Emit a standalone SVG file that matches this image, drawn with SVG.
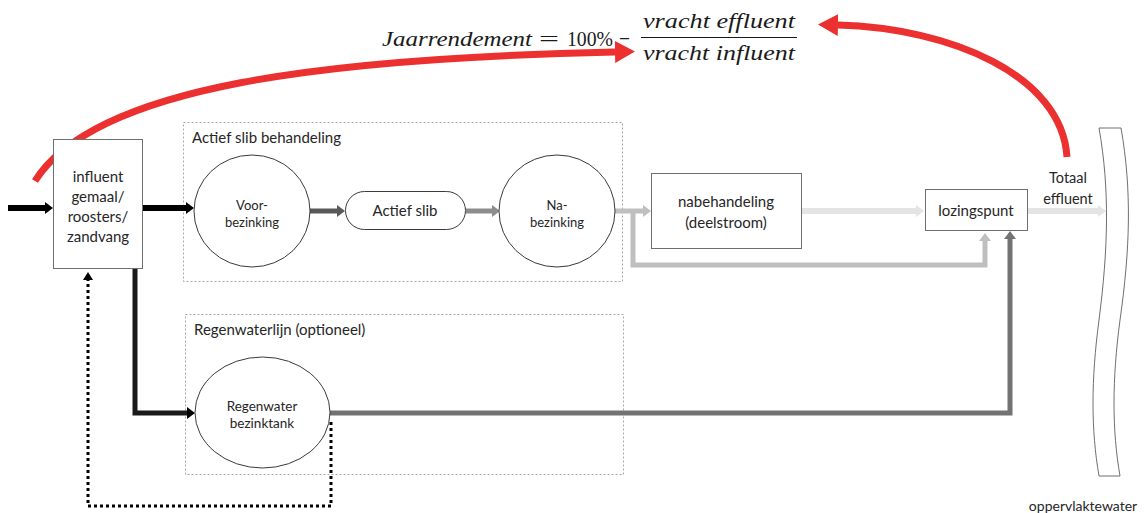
<svg xmlns="http://www.w3.org/2000/svg" width="1147" height="513" viewBox="0 0 1147 513">
  <style>
    .lbl { font-family: Lato, "Open Sans", "Liberation Sans", sans-serif; fill: #262626; text-anchor: middle; }
    .grp { font-family: Lato, "Open Sans", "Liberation Sans", sans-serif; fill: #262626; font-size: 15px; }
    .box { fill: #ffffff; stroke: #6f6f6f; stroke-width: 1; }
    .tank { fill: #ffffff; stroke: #3a3a3a; stroke-width: 1; }
    .zone { fill: none; stroke: #a6a6a6; stroke-width: 1; stroke-dasharray: 2 2; }
    .math { font-family: "Liberation Serif", "DejaVu Serif", serif; fill: #1a1a1a; font-size: 22px; }
    .flow { fill: none; stroke-linejoin: miter; }
  </style>
  <defs>
    <marker id="hBlack" markerUnits="userSpaceOnUse" viewBox="0 0 8 12" refX="0" refY="6" markerWidth="8" markerHeight="12" orient="auto">
      <path d="M0 0 L8 6 L0 12 Z" fill="#000000"/>
    </marker>
    <marker id="hDark" markerUnits="userSpaceOnUse" viewBox="0 0 8 12" refX="0" refY="6" markerWidth="8" markerHeight="12" orient="auto">
      <path d="M0 0 L8 6 L0 12 Z" fill="#595959"/>
    </marker>
    <marker id="hMid" markerUnits="userSpaceOnUse" viewBox="0 0 8 12" refX="0" refY="6" markerWidth="8" markerHeight="12" orient="auto">
      <path d="M0 0 L8 6 L0 12 Z" fill="#8c8c8c"/>
    </marker>
    <marker id="hLight" markerUnits="userSpaceOnUse" viewBox="0 0 8 12" refX="0" refY="6" markerWidth="8" markerHeight="12" orient="auto">
      <path d="M0 0 L8 6 L0 12 Z" fill="#bfbfbf"/>
    </marker>
    <marker id="hPale" markerUnits="userSpaceOnUse" viewBox="0 0 8 12" refX="0" refY="6" markerWidth="8" markerHeight="12" orient="auto">
      <path d="M0 0 L8 6 L0 12 Z" fill="#e4e4e4"/>
    </marker>
    <marker id="hSlate" markerUnits="userSpaceOnUse" viewBox="0 0 8 12" refX="0" refY="6" markerWidth="8" markerHeight="12" orient="auto">
      <path d="M0 0 L8 6 L0 12 Z" fill="#727272"/>
    </marker>
    <marker id="hDot" markerUnits="userSpaceOnUse" viewBox="0 0 8 10" refX="0" refY="5" markerWidth="8" markerHeight="10" orient="auto">
      <path d="M0 0 L8 5 L0 10 Z" fill="#000000"/>
    </marker>
    <marker id="hRed" markerUnits="userSpaceOnUse" viewBox="0 0 20 22" refX="0" refY="11" markerWidth="20" markerHeight="22" orient="auto">
      <path d="M0 0 L20 11 L0 22 Z" fill="#ec2f2f"/>
    </marker>
  </defs>

  <!-- grouping frames -->
  <g id="zone-actief-slib">
    <rect class="zone" x="183.5" y="122.5" width="439" height="159"/>
    <text class="grp" x="192" y="143">Actief slib behandeling</text>
  </g>
  <g id="zone-regenwater">
    <rect class="zone" x="185.5" y="314.5" width="438" height="160"/>
    <text class="grp" x="194" y="335">Regenwaterlijn (optioneel)</text>
  </g>

  <!-- connectors -->
  <g id="connectors">
    <!-- main line -->
    <line class="flow" x1="8" y1="208" x2="45" y2="208" stroke="#000000" stroke-width="6" marker-end="url(#hBlack)"/>
    <line class="flow" x1="143" y1="208" x2="186" y2="208" stroke="#000000" stroke-width="6" marker-end="url(#hBlack)"/>
    <line class="flow" x1="310" y1="211" x2="337" y2="211" stroke="#595959" stroke-width="5" marker-end="url(#hDark)"/>
    <line class="flow" x1="466" y1="211" x2="492" y2="211" stroke="#8c8c8c" stroke-width="5" marker-end="url(#hMid)"/>
    <line class="flow" x1="615" y1="211" x2="643" y2="211" stroke="#bfbfbf" stroke-width="5" marker-end="url(#hLight)"/>
    <!-- bypass around nabehandeling -->
    <path class="flow" d="M633 211 V265 H985 V241" stroke="#bfbfbf" stroke-width="5" marker-end="url(#hLight)"/>
    <line class="flow" x1="802" y1="211" x2="916" y2="211" stroke="#e4e4e4" stroke-width="6" marker-end="url(#hPale)"/>
    <line class="flow" x1="1028" y1="211" x2="1098" y2="211" stroke="#e4e4e4" stroke-width="6" marker-end="url(#hPale)"/>
    <!-- storm water line -->
    <path class="flow" d="M135 269 V413 H187" stroke="#1a1a1a" stroke-width="5" marker-end="url(#hBlack)"/>
    <path class="flow" d="M330 413 H1010 V239" stroke="#727272" stroke-width="5" marker-end="url(#hSlate)"/>
    <!-- return flow -->
    <path class="flow" d="M331 422 V506 H88 V280" stroke="#000000" stroke-width="3" stroke-dasharray="3 3" marker-end="url(#hDot)"/>
    <!-- efficiency arrows -->
    <path class="flow" d="M35 181 C 95 85, 330 58, 615 52" stroke="#ec2f2f" stroke-width="7" marker-end="url(#hRed)"/>
    <path class="flow" d="M1067 157 C 1062 75, 950 28, 838 25" stroke="#ec2f2f" stroke-width="7" marker-end="url(#hRed)"/>
  </g>

  <!-- nodes -->
  <g id="influent">
    <rect class="box" x="53.5" y="139.5" width="89" height="129"/>
    <text class="lbl" font-size="15"><tspan x="98" y="182">influent</tspan><tspan x="98" y="202">gemaal/</tspan><tspan x="98" y="222">roosters/</tspan><tspan x="98" y="242">zandvang</tspan></text>
  </g>
  <g id="voorbezinking">
    <ellipse class="tank" cx="252" cy="211" rx="58" ry="56"/>
    <text class="lbl" font-size="13"><tspan x="252" y="210">Voor-</tspan><tspan x="252" y="227">bezinking</tspan></text>
  </g>
  <g id="actief-slib">
    <rect class="tank" x="345.5" y="191.5" width="120" height="38" rx="19"/>
    <text class="lbl" font-size="15" x="405" y="216">Actief slib</text>
  </g>
  <g id="nabezinking">
    <ellipse class="tank" cx="557" cy="211" rx="58" ry="56"/>
    <text class="lbl" font-size="13"><tspan x="557" y="210">Na-</tspan><tspan x="557" y="227">bezinking</tspan></text>
  </g>
  <g id="nabehandeling">
    <rect class="box" x="651.5" y="173.5" width="150" height="75"/>
    <text class="lbl" font-size="15"><tspan x="726" y="207">nabehandeling</tspan><tspan x="726" y="228">(deelstroom)</tspan></text>
  </g>
  <g id="lozingspunt">
    <rect class="box" x="925.5" y="189.5" width="102" height="41"/>
    <text class="lbl" font-size="15" x="976" y="216">lozingspunt</text>
  </g>
  <g id="regenwater-bezinktank">
    <ellipse class="tank" cx="262.5" cy="412.5" rx="67.5" ry="55.5"/>
    <text class="lbl" font-size="13.5"><tspan x="262" y="411">Regenwater</tspan><tspan x="262" y="428">bezinktank</tspan></text>
  </g>
  <g id="oppervlaktewater">
    <path d="M1099 128 H1121 C 1132 190, 1130 250, 1120 320 C 1112 380, 1112 430, 1120 476 H1099 C 1091 430, 1091 380, 1099 320 C 1108 250, 1110 190, 1099 128 Z" fill="#ffffff" stroke="#6f6f6f" stroke-width="1"/>
    <text class="lbl" font-size="14" x="1083" y="511">oppervlaktewater</text>
  </g>
  <g id="totaal-effluent">
    <text class="lbl" font-size="14.5"><tspan x="1068" y="183">Totaal</tspan><tspan x="1068" y="204">effluent</tspan></text>
  </g>

  <!-- annual efficiency formula -->
  <g id="formule">
    <text class="math" x="382" y="46" font-style="italic" textLength="150" lengthAdjust="spacingAndGlyphs">Jaarrendement</text>
    <text class="math" x="539" y="46" textLength="20" lengthAdjust="spacingAndGlyphs">=</text>
    <text class="math" x="567" y="46" textLength="46" lengthAdjust="spacingAndGlyphs">100%</text>
    <text class="math" x="619" y="46" textLength="11" lengthAdjust="spacingAndGlyphs">−</text>
    <text class="math" x="643" y="28" font-style="italic" textLength="152" lengthAdjust="spacingAndGlyphs">vracht effluent</text>
    <line x1="641" y1="37.5" x2="797" y2="37.5" stroke="#1a1a1a" stroke-width="1.2"/>
    <text class="math" x="643" y="60" font-style="italic" textLength="152" lengthAdjust="spacingAndGlyphs">vracht influent</text>
  </g>
</svg>
